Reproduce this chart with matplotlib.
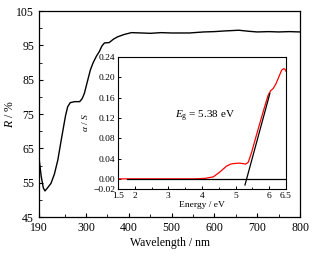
import matplotlib
matplotlib.use('Agg')
import matplotlib.pyplot as plt

plt.rcParams['font.family'] = 'Liberation Serif'
plt.rcParams['mathtext.fontset'] = 'custom'
plt.rcParams['mathtext.rm'] = 'Liberation Serif'
plt.rcParams['mathtext.it'] = 'Liberation Serif:italic'

# reflectance spectrum
wavelength = [190, 195, 200, 204, 210, 218, 226, 234, 240, 246, 252, 257, 263, 273,
              285, 291, 296, 304, 310, 316, 324, 331, 337, 343, 354, 364, 374, 390,
              406, 430, 450, 475, 500, 541, 575, 600, 625, 657, 680, 700, 727, 750,
              775, 800]
refl = [62.3, 57.0, 53.5, 52.6, 53.5, 54.8, 57.5, 61.6, 66.0, 70.3, 74.5, 77.1, 78.3, 78.6,
        78.6, 79.5, 81.0, 84.9, 87.8, 89.8, 91.8, 93.2, 94.8, 95.7, 95.8, 96.8, 97.5, 98.2,
        98.7, 98.6, 98.5, 98.7, 98.6, 98.6, 98.9, 99.0, 99.2, 99.4, 99.1, 98.9, 99.0, 98.9,
        99.0, 98.9]

# absorption vs photon energy (inset)
energy = [1.5, 2.0, 3.0, 3.8, 4.1, 4.34, 4.54, 4.73, 4.85, 4.93, 5.1, 5.23, 5.3, 5.38,
          5.48, 5.62, 5.82, 5.97, 6.05, 6.12, 6.2, 6.27, 6.37, 6.43, 6.47, 6.5]
alpha = [0, 0, 0, 0, 0.001, 0.004, 0.014, 0.025, 0.029, 0.030, 0.031, 0.030, 0.029, 0.033,
         0.053, 0.086, 0.132, 0.165, 0.174, 0.178, 0.187, 0.198, 0.214, 0.217, 0.216, 0.212]
fit_e = [5.28, 6.02]
fit_a = [-0.012, 0.168]
base_e = [1.78, 6.5]
base_a = [0, 0]

fig = plt.figure(figsize=(3.16, 2.56), dpi=100)
ax = fig.add_axes([0.1234, 0.1523, 0.826, 0.8047])
ax.plot(wavelength, refl, color='black', lw=1.0)
ax.set_xlim(190, 800)
ax.set_ylim(45, 105)
ax.set_xticks([190, 300, 400, 500, 600, 700, 800])
ax.set_xticks([250, 350, 450, 550, 650, 750], minor=True)
ax.set_yticks([45, 55, 65, 75, 85, 95, 105])
ax.set_yticks([50, 60, 70, 80, 90, 100], minor=True)
ax.tick_params(direction='in', labelsize=8.5, length=3, width=0.8)
ax.tick_params(which='minor', direction='in', length=2, width=0.6)
ax.set_xlabel('Wavelength / nm', fontsize=8.5, labelpad=2)
ax.set_ylabel('$R$ / %', fontsize=8.5, labelpad=0)
for s in ax.spines.values():
    s.set_linewidth(0.9)

ins = fig.add_axes([0.3734, 0.2617, 0.5316, 0.5156])
ins.plot(energy, alpha, color='red', lw=0.9)
ins.plot(base_e, base_a, color='black', lw=0.9)
ins.plot(fit_e, fit_a, color='black', lw=0.9)
ins.set_xlim(1.5, 6.5)
ins.set_ylim(-0.02, 0.24)
ins.set_xticks([1.5, 2, 3, 4, 5, 6, 6.5])
ins.set_xticklabels(['1.5', '2', '3', '4', '5', '6', '6.5'])
ins.set_xticks([2.5, 3.5, 4.5, 5.5], minor=True)
ins.set_yticks([-0.02, 0.00, 0.04, 0.08, 0.12, 0.16, 0.20, 0.24])
ins.set_yticklabels(['\u22120.02', '0.00', '0.04', '0.08', '0.12', '0.16', '0.20', '0.24'])
ins.tick_params(direction='in', labelsize=6.8, length=2.5, width=0.7, pad=2)
ins.tick_params(which='minor', direction='in', length=1.5, width=0.6)
ins.set_xlabel('Energy / eV', fontsize=6.8, labelpad=1)
ins.set_ylabel('$\\alpha$ / $S$', fontsize=6.8, labelpad=2)
ins.text(4.1, 0.122, '$E_{\\rm g}$ = 5.38 eV', fontsize=8, ha='center', va='center')
for s in ins.spines.values():
    s.set_linewidth(0.8)

fig.savefig('out.png', dpi=100)
